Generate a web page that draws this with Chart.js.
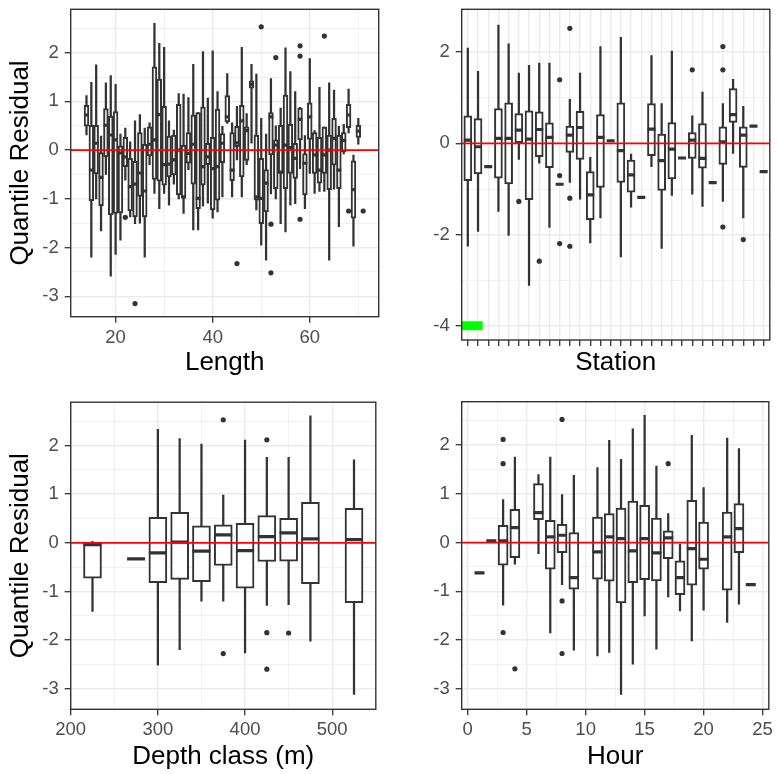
<!DOCTYPE html>
<html>
<head>
<meta charset="utf-8">
<script src="https://cdn.jsdelivr.net/npm/chart.js@4.4.1/dist/chart.umd.min.js"></script>
<style>
  html, body { margin: 0; padding: 0; background: #fff; }
  #wrap { position: relative; width: 777px; height: 774px; }
  #wrap canvas { position: absolute; }
</style>
</head>
<body>
<div id="wrap">
  <canvas id="c-length" width="388" height="390" style="left:0;top:0"></canvas>
  <canvas id="c-station" width="389" height="390" style="left:388px;top:0"></canvas>
  <canvas id="c-depth" width="388" height="384" style="left:0;top:390px"></canvas>
  <canvas id="c-hour" width="389" height="384" style="left:388px;top:390px"></canvas>
</div>
<script>
// ---- Length panel (one box per length) ----
const lengthX    = [14,15,16,17,18,19,20,21,22,23,24,25,26,27,28,29,30,31,32,33,34,35,36,37,38,39,40,41,42,43,44,45,46,47,48,49,50,51,52,53,54,55,56,57,58,59,60,61,62,63,64,65,66,67,68,69,70];
const lengthLow  = [0.31,-2.2,-1.0,-1.66,-0.5,-2.59,-2.14,-1.85,-0.62,-1.37,-1.51,-1.5,-2.2,-0.3,-0.89,-1.2,-0.89,-1.13,-0.7,-1.0,-1.3,-0.4,-1.64,-1.64,-1.15,-1.09,-1.4,-1.27,-0.96,0.55,-0.96,-0.2,-0.96,-0.3,0.14,-1.23,-1.95,-2.26,-0.9,-1.0,-1.51,-1.68,-1.13,-1.1,-0.38,-1.2,-0.48,-0.89,-0.85,-0.85,-2.26,-0.8,-1.57,-0.08,0.35,-1.97,0.12];
const lengthQ1   = [0.49,-1.04,-0.49,-1.14,-0.14,-1.33,-1.3,-1.29,-0.34,-1.25,-1.37,-0.95,-1.37,-0.12,-0.6,-0.64,-0.72,-0.55,-0.51,-0.92,-0.98,-0.27,-0.7,-1.2,-0.72,-0.3,-1.23,-1.03,-0.26,0.58,-0.63,0.07,-0.55,-0.21,1.27,-1.03,-1.51,-1.27,-0.1,-0.79,-0.48,-0.79,-0.48,-0.58,0.21,-0.92,0.22,-0.48,-0.68,-0.48,-0.81,-0.31,-0.79,-0.03,0.46,-1.4,0.26];
const lengthMed  = [0.72,-0.41,0.14,-0.56,0.51,0.31,0.21,-0.06,-0.14,-0.75,-0.7,-0.47,-0.84,0.12,0.21,0.73,-0.3,-0.29,-0.2,0.0,-0.96,-0.07,0.12,-0.99,-0.34,-0.14,-0.38,-0.34,0.14,0.68,-0.41,0.15,0.6,0.4,1.35,-0.96,-0.99,-0.68,0.68,0.1,-0.45,0.1,0.05,-0.17,0.63,-0.27,0.68,-0.1,-0.41,-0.1,0.0,0.24,-0.41,0.2,0.72,-0.81,0.39];
const lengthQ3   = [0.92,0.51,0.51,-0.05,0.85,0.7,0.79,0.09,0.26,-0.17,-0.23,0.36,0.12,0.48,1.71,1.46,0.9,0.29,0.31,0.94,0.1,0.36,0.72,0.77,0.89,0.14,0.26,0.84,0.34,1.12,0.36,0.49,0.92,0.48,1.42,0.31,-0.17,-0.4,0.77,0.21,0.51,1.13,0.53,0.14,0.86,-0.07,0.97,0.36,0.26,0.47,0.31,0.65,0.31,0.36,0.94,-0.22,0.51];
const lengthHigh = [1.12,1.39,1.75,0.29,1.38,1.53,1.35,0.33,0.45,0.17,0.6,0.73,0.45,0.56,2.6,2.19,2.11,0.6,0.41,1.16,1.15,1.08,1.76,0.77,2.02,1.07,2.04,1.2,0.49,1.57,0.56,0.9,2.11,0.75,1.76,1.56,0.65,0.33,1.47,0.5,0.86,2.1,1.61,1.2,0.88,0.3,1.88,0.4,1.29,0.48,1.38,1.23,0.49,0.53,1.25,-0.1,0.65];
const lengthOutX = [22,24,45,50,52,52,53,58,58,58,63,68,71];
const lengthOutY = [-1.38,-3.15,-2.33,2.53,-1.52,-2.52,1.9,2.14,1.93,-1.42,2.34,-1.25,-1.25];

// ---- Station panel (30 stations, no tick labels) ----
const stationX    = [1,2,3,4,5,6,7,8,9,10,11,12,13,14,15,16,17,18,19,20,21,22,23,24,25,26,27,28,29,30];
const stationLow  = [-2.255,-1.927,-0.509,-1.491,-2.015,-0.349,-3.113,-0.436,-1.84,-0.895,-0.858,-1.222,-2.182,-1.636,0.058,-2.487,-1.396,-1.185,-0.509,-2.305,-1.142,-0.32,-1.113,-1.382,-0.858,-1.273,-0.218,-1.636,0.378,-0.618];
const stationQ1   = [-0.815,-0.669,-0.509,-0.764,-0.887,0.0,-1.236,-0.291,-0.531,-0.895,-0.196,-0.349,-1.673,-0.967,0.058,-0.858,-1.069,-1.185,-0.269,-1.033,-0.778,-0.32,-0.327,-0.545,-0.858,-0.458,0.458,-0.524,0.378,-0.618];
const stationMed  = [0.073,-0.073,-0.509,0.109,0.109,0.291,0.094,0.305,0.131,-0.895,0.182,0.349,-1.127,0.131,0.058,-0.16,-0.691,-1.185,0.313,-0.378,-0.124,-0.32,0.073,-0.327,-0.858,0.036,0.633,0.182,0.378,-0.618];
const stationQ3   = [0.603,0.545,-0.509,0.763,0.887,0.654,0.713,0.691,0.451,-0.895,0.378,0.705,-0.618,0.632,0.058,0.887,-0.364,-1.185,0.873,0.204,0.458,-0.32,0.24,0.436,-0.858,0.364,1.2,0.364,0.378,-0.618];
const stationHigh = [2.09,1.578,-0.509,2.596,2.181,1.542,1.709,1.76,1.76,-0.895,0.967,1.542,-0.306,2.123,0.058,2.327,-0.233,-1.185,1.927,0.873,2.022,-0.32,0.603,1.127,-0.858,0.873,1.403,0.814,0.378,-0.618];
const stationOutX = [6,8,10,10,10,11,11,11,23,26,26,26,28];
const stationOutY = [-1.273,-2.582,1.396,-0.706,-2.196,2.523,-1.2,-2.255,1.614,2.123,1.614,-1.833,-2.109];
// green marker band at the bottom left of the station panel
const stationBandY = -4;
const stationBandTo = 2.46;

// ---- Depth class panel ----
const depthX    = [225,275,300,325,350,375,400,425,450,475,525];
const depthLow  = [-1.408,-0.328,-2.514,-2.193,-1.196,-1.196,-2.261,-1.285,-1.271,-2.022,-3.115];
const depthQ1   = [-0.725,-0.328,-0.82,-0.752,-0.8,-0.465,-0.93,-0.383,-0.376,-0.841,-1.23];
const depthMed  = [-0.035,-0.328,-0.206,0.013,-0.171,0.163,-0.158,0.129,0.204,0.081,0.068];
const depthQ3   = [0.013,-0.328,0.525,0.628,0.348,0.368,0.403,0.559,0.505,0.833,0.71];
const depthHigh = [0.03,-0.328,2.335,2.144,2.028,0.983,2.11,1.755,1.755,2.609,1.707];
const depthOutX = [375,375,425,425,425,450];
const depthOutY = [2.527,-2.275,2.117,-1.845,-2.596,-1.852];

// ---- Hour panel ----
const hourX    = [1,2,3,4,6,7,8,9,11,12,13,14,15,16,17,18,19,20,22,23,24];
const hourLow  = [-0.622,0.033,-1.285,-0.445,-0.226,-1.852,-0.861,-2.207,-2.323,-2.255,-3.115,-2.494,-1.503,-2.186,-1.114,-1.401,-2.016,-1.387,-1.64,-1.264,-0.861];
const hourQ1   = [-0.622,0.033,-0.465,-0.308,0.471,-0.547,-0.206,-0.957,-0.752,-0.793,-1.237,-0.82,-0.759,-0.786,-0.328,-1.066,-0.875,-0.547,-0.977,-0.206,-0.861];
const hourMed  = [-0.622,0.033,0.033,0.307,0.614,0.116,0.15,-0.718,-0.192,0.116,0.081,-0.171,0.081,-0.212,0.095,-0.718,-0.124,-0.342,0.116,0.286,-0.861];
const hourQ3   = [-0.622,0.033,0.355,0.682,1.208,0.457,0.375,0.204,0.525,0.594,0.71,0.853,0.764,0.505,0.239,-0.376,0.867,0.423,0.628,0.799,-0.861];
const hourHigh = [-0.622,0.033,0.88,1.755,1.393,1.755,0.983,1.379,1.536,2.096,1.707,2.335,2.609,1.57,0.594,-0.035,2.199,1.126,2.144,1.926,-0.861];
const hourOutX = [3,3,3,4,8,8,8,17];
const hourOutY = [2.117,1.618,-1.845,-2.589,2.527,-1.196,-2.275,1.618];

// ---- axis ticks (major labelled, minor only as grid lines) ----
const residMajor = [-3,-2,-1,0,1,2];
const residMinor = [-2.5,-1.5,-0.5,0.5,1.5,2.5];
const stationResidMajor = [-4,-2,0,2];
const stationResidMinor = [-3,-1,1];
const lengthMajor = [20,40,60];
const lengthMinor = [30,50,70];
const depthMajor = [200,300,400,500];
const depthMinor = [250,350,450];
const hourMajor = [0,5,10,15,20,25];
const hourMinor = [2.5,7.5,12.5,17.5,22.5];

const INK = '#333333';
const REF_LINE = 0;

Chart.defaults.font.family = '"Liberation Sans", Arial, sans-serif';

const panelBorder = {
    id: 'panelBorder',
    afterDraw(chart) {
        const { ctx, chartArea: a } = chart;
        ctx.save();
        ctx.strokeStyle = INK;
        ctx.lineWidth = 1.4;
        ctx.strokeRect(a.left, a.top, a.right - a.left, a.bottom - a.top);
        ctx.restore();
    }
};

function axis(min, max, major, minor, opts) {
    const all = major.concat(minor).sort((a, b) => a - b);
    const isMajor = c => c.tick && major.includes(c.tick.value);
    return {
        type: 'linear',
        min: min,
        max: max,
        offset: false,
        afterBuildTicks: scale => {
            scale.ticks = all.map(v => ({ value: v }));
        },
        afterFit: scale => {
            if (opts.width !== undefined) scale.width = opts.width;
            if (opts.height !== undefined) scale.height = opts.height;
            scale.paddingTop = 0;
            scale.paddingBottom = 0;
            scale.paddingLeft = 0;
            scale.paddingRight = 0;
        },
        ticks: {
            autoSkip: false,
            maxRotation: 0,
            padding: opts.tickPad,
            color: '#4d4d4d',
            font: { size: 18.5 },
            callback: v => (opts.labels !== false && major.includes(v)) ? String(v) : ''
        },
        grid: {
            offset: false,
            color: '#ebebeb',
            lineWidth: c => isMajor(c) ? 1.4 : 0.7,
            tickColor: c => isMajor(c) ? INK : 'rgba(0,0,0,0)',
            tickWidth: 1.3,
            tickLength: 6
        },
        border: { display: false },
        title: {
            display: !!opts.title,
            text: opts.title || '',
            color: '#000000',
            font: { size: 26 },
            padding: opts.titlePad || 0
        }
    };
}

function boxDatasets(xs, lo, q1, med, q3, hi, outX, outY, boxPx) {
    return [
        {
            type: 'line',
            data: outX.map((x, i) => ({ x: x, y: outY[i] })),
            showLine: false,
            pointRadius: 2.6,
            pointBackgroundColor: INK,
            pointBorderWidth: 0,
            order: 1
        },
        {
            type: 'line',
            data: xs.map((x, i) => ({ x: x, y: med[i] })),
            showLine: false,
            pointStyle: 'line',
            pointRadius: boxPx / 2,
            pointBorderColor: INK,
            pointBorderWidth: 3.2,
            order: 2
        },
        {
            type: 'bar',
            data: xs.map((x, i) => ({ x: x, y: [q1[i], q3[i]] })),
            backgroundColor: '#ffffff',
            borderColor: INK,
            borderWidth: 2,
            borderSkipped: false,
            barThickness: boxPx,
            grouped: false,
            order: 3
        },
        {
            type: 'bar',
            data: xs.map((x, i) => ({ x: x, y: [lo[i], hi[i]] })),
            backgroundColor: INK,
            borderWidth: 0,
            barThickness: 1.6,
            grouped: false,
            order: 4
        }
    ];
}

function refLine(xMin, xMax) {
    return {
        type: 'line',
        data: [{ x: xMin, y: REF_LINE }, { x: xMax, y: REF_LINE }],
        borderColor: '#ff0000',
        borderWidth: 1.8,
        pointRadius: 0,
        order: 0
    };
}

function makePanel(id, datasets, xAxis, yAxis, pad) {
    return new Chart(document.getElementById(id), {
        type: 'bar',
        data: { datasets: datasets },
        options: {
            responsive: false,
            animation: false,
            events: [],
            layout: { padding: pad },
            scales: { x: xAxis, y: yAxis },
            plugins: {
                legend: { display: false },
                tooltip: { enabled: false }
            }
        },
        plugins: [panelBorder]
    });
}

// top left: Length
makePanel('c-length',
    [refLine(10.75, 74.2)].concat(boxDatasets(lengthX, lengthLow, lengthQ1, lengthMed, lengthQ3, lengthHigh, lengthOutX, lengthOutY, 4.8)),
    axis(10.75, 74.2, lengthMajor, lengthMinor, { height: 73.3, tickPad: 4, title: 'Length', titlePad: { top: 0, bottom: 11.5 } }),
    axis(-3.42, 2.89, residMajor, residMinor, { width: 70.7, tickPad: 6, title: 'Quantile Residual', titlePad: { top: 5, bottom: 0 } }),
    { top: 9.3, right: 9.3, left: 0, bottom: 0 });

// top right: Station
makePanel('c-station',
    [refLine(0.4, 30.6), {
        type: 'line',
        data: [{ x: 0.4, y: stationBandY }, { x: stationBandTo, y: stationBandY }],
        borderColor: '#00ff00',
        borderWidth: 9,
        borderCapStyle: 'butt',
        pointRadius: 0,
        order: 0
    }].concat(boxDatasets(stationX, stationLow, stationQ1, stationMed, stationQ3, stationHigh, stationOutX, stationOutY, 8)),
    axis(0.4, 30.6, stationX, [], { height: 50, tickPad: 0, labels: false, title: 'Station', titlePad: { top: 0, bottom: 11.5 } }),
    axis(-4.31, 2.94, stationResidMajor, stationResidMinor, { width: 73.7, tickPad: 6 }),
    { top: 9.3, right: 7, left: 0, bottom: 0 });

// bottom left: Depth class
makePanel('c-depth',
    [refLine(200, 550)].concat(boxDatasets(depthX, depthLow, depthQ1, depthMed, depthQ3, depthHigh, depthOutX, depthOutY, 18)),
    axis(200, 550, depthMajor, depthMinor, { height: 64.7, tickPad: 4, title: 'Depth class (m)', titlePad: { top: 0, bottom: 1.5 } }),
    axis(-3.42, 2.89, residMajor, residMinor, { width: 70.7, tickPad: 6, title: 'Quantile Residual', titlePad: { top: 5, bottom: 0 } }),
    { top: 11.7, right: 9.7, left: 0, bottom: 0 });

// bottom right: Hour
makePanel('c-hour',
    [refLine(-0.51, 25.53)].concat(boxDatasets(hourX, hourLow, hourQ1, hourMed, hourQ3, hourHigh, hourOutX, hourOutY, 10)),
    axis(-0.51, 25.53, hourMajor, hourMinor, { height: 64.7, tickPad: 4, title: 'Hour', titlePad: { top: 0, bottom: 1.5 } }),
    axis(-3.42, 2.89, residMajor, residMinor, { width: 73.7, tickPad: 6 }),
    { top: 11.7, right: 7, left: 0, bottom: 0 });
</script>
</body>
</html>
